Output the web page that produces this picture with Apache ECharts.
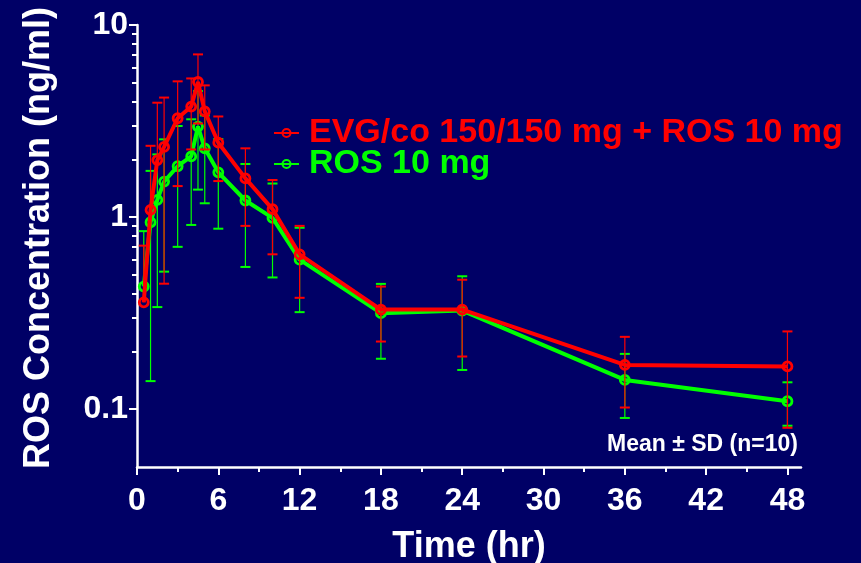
<!DOCTYPE html>
<html>
<head>
<meta charset="utf-8">
<title>ROS Concentration</title>
<script src="https://cdn.jsdelivr.net/npm/echarts@6/dist/echarts.min.js"></script>
<style>
  html, body { margin: 0; padding: 0; background: #000066; }
  #chart { width: 861px; height: 563px; }
</style>
</head>
<body>
<div id="chart"></div>
<script>
// Sampling times (hr)
const times = [0.5, 1, 1.5, 2, 3, 4, 4.5, 5, 6, 8, 10, 12, 18, 24, 36, 48];

// EVG/co 150/150 mg + ROS 10 mg: mean and SD (ng/ml)
const evgMean = [0.36, 1.09, 1.98, 2.32, 3.27, 3.76, 5.05, 3.55, 2.44, 1.59, 1.10, 0.64, 0.33, 0.33, 0.170, 0.167];
const evgSD   = [0.35, 1.26, 1.96, 1.87, 1.82, 1.51, 1.98, 1.30, 0.90, 0.69, 0.46, 0.26, 0.105, 0.142, 0.068, 0.087];

// ROS 10 mg alone: mean and SD (ng/ml)
const rosMean = [0.435, 0.94, 1.23, 1.53, 1.84, 2.07, 2.96, 2.28, 1.71, 1.22, 0.99, 0.60, 0.316, 0.326, 0.142, 0.110];
const rosSD   = [0.41, 0.80, 0.89, 1.01, 1.14, 1.16, 1.57, 1.10, 0.84, 0.67, 0.505, 0.28, 0.133, 0.166, 0.052, 0.028];

// Axis ticks
const xLabelTicks = [0, 6, 12, 18, 24, 30, 36, 42, 48];
const xMinorTicks = [3, 9, 15, 21, 27, 33, 39, 45];
const yLabelTicks = [0.1, 1, 10];
const yMinorTicks = [0.2, 0.3, 0.4, 0.5, 0.6, 0.7, 0.8, 0.9, 2, 3, 4, 5, 6, 7, 8, 9];

const seriesNames = ['EVG/co 150/150 mg + ROS 10 mg', 'ROS 10 mg'];

const X_MIN = 0, X_MAX = 49;
const Y_MIN = 0.05, Y_MAX = 10;

const BG = '#000066';
const RED = '#ff0000';
const GREEN = '#00ff00';
const FONT = '"Liberation Sans", Arial, sans-serif';

function pairs(xs, ys) {
  return xs.map((x, i) => [x, ys[i]]);
}

function barRows(xs, means, sds) {
  return xs.map((x, i) => [x, means[i], means[i] + sds[i], means[i] - sds[i]]);
}

// Vertical mean ± SD bars with short caps; a lower half that falls below the axis is left out
function errorBarRenderer(color) {
  return function (params, api) {
    const t = api.value(0);
    const m = api.value(1);
    const hi = api.value(2);
    const lo = api.value(3);
    const pM = api.coord([t, m]);
    const pH = api.coord([t, hi]);
    const half = 5;
    const stemStyle = { stroke: color, lineWidth: 1.2 };
    const capStyle = { stroke: color, lineWidth: 2 };
    const children = [
      { type: 'line', shape: { x1: pM[0], y1: pM[1], x2: pH[0], y2: pH[1] }, style: stemStyle },
      { type: 'line', shape: { x1: pH[0] - half, y1: pH[1], x2: pH[0] + half, y2: pH[1] }, style: capStyle }
    ];
    if (lo > Y_MIN) {
      const pL = api.coord([t, lo]);
      children.push(
        { type: 'line', shape: { x1: pM[0], y1: pM[1], x2: pL[0], y2: pL[1] }, style: stemStyle },
        { type: 'line', shape: { x1: pL[0] - half, y1: pL[1], x2: pL[0] + half, y2: pL[1] }, style: capStyle }
      );
    }
    return { type: 'group', children: children };
  };
}

function lineSeries(name, data, color, z) {
  return {
    name: name,
    type: 'line',
    data: data,
    z: z,
    color: color,
    symbol: 'circle',
    symbolSize: 9,
    showSymbol: true,
    lineStyle: { color: color, width: 4 },
    itemStyle: { color: 'rgba(0,0,0,0)', borderColor: color, borderWidth: 2.8 },
    emphasis: { disabled: true }
  };
}

function barSeries(name, rows, color, z) {
  return {
    name: name,
    type: 'custom',
    data: rows,
    z: z,
    encode: { x: 0, y: 1 },
    renderItem: errorBarRenderer(color),
    silent: true
  };
}

const axisColor = '#ffffff';

const chart = echarts.init(document.getElementById('chart'), null, { renderer: 'canvas' });

chart.setOption({
  backgroundColor: BG,
  animation: false,
  textStyle: { fontFamily: FONT },
  grid: { left: 137, right: 60, top: 25, bottom: 96, containLabel: false, outerBoundsMode: 'none' },
  legend: {
    orient: 'vertical',
    left: 268,
    top: 111,
    itemWidth: 25,
    itemHeight: 10,
    itemGap: -3,
    selectedMode: false,
    textStyle: { fontFamily: FONT, fontSize: 34, fontWeight: 'bold', padding: [0, 0, 0, 5] },
    data: [
      { name: seriesNames[0], textStyle: { color: RED } },
      { name: seriesNames[1], textStyle: { color: GREEN } }
    ]
  },
  xAxis: [
    {
      type: 'value',
      min: X_MIN,
      max: X_MAX,
      name: 'Time (hr)',
      nameLocation: 'middle',
      nameGap: 62,
      nameTextStyle: { color: '#ffffff', fontSize: 36, fontWeight: 'bold', fontFamily: FONT },
      axisLine: { show: true, onZero: false, lineStyle: { color: axisColor, width: 2.5 } },
      axisTick: { show: true, length: 8, lineStyle: { color: axisColor, width: 2 }, customValues: xLabelTicks },
      axisLabel: { color: '#ffffff', fontSize: 32, fontWeight: 'bold', fontFamily: FONT, margin: 18, customValues: xLabelTicks },
      splitLine: { show: false }
    },
    {
      type: 'value',
      min: X_MIN,
      max: X_MAX,
      position: 'bottom',
      axisLine: { show: false },
      axisTick: { show: true, length: 5, lineStyle: { color: axisColor, width: 2 }, customValues: xMinorTicks },
      axisLabel: { show: false },
      splitLine: { show: false }
    }
  ],
  yAxis: [
    {
      type: 'log',
      logBase: 10,
      min: Y_MIN,
      max: Y_MAX,
      name: 'ROS Concentration (ng/ml)',
      nameLocation: 'middle',
      nameRotate: 90,
      nameGap: 80,
      nameTextStyle: { color: '#ffffff', fontSize: 36, fontWeight: 'bold', fontFamily: FONT, padding: [0, 0, 0, 16] },
      axisLine: { show: true, lineStyle: { color: axisColor, width: 2.5 } },
      axisTick: { show: true, length: 8, lineStyle: { color: axisColor, width: 2 }, customValues: yLabelTicks },
      axisLabel: {
        color: '#ffffff', fontSize: 32, fontWeight: 'bold', fontFamily: FONT, margin: 9,
        padding: [15, 0, 0, 0],
        customValues: yLabelTicks,
        formatter: function (v) { return String(Number(v.toPrecision(3))); }
      },
      splitLine: { show: false }
    },
    {
      type: 'log',
      logBase: 10,
      min: Y_MIN,
      max: Y_MAX,
      position: 'left',
      axisLine: { show: false },
      axisTick: { show: true, length: 5, lineStyle: { color: axisColor, width: 2 }, customValues: yMinorTicks },
      axisLabel: { show: false },
      splitLine: { show: false }
    }
  ],
  graphic: [
    {
      type: 'text',
      x: 798,
      y: 445,
      style: {
        text: 'Mean \u00b1 SD (n=10)',
        fill: '#ffffff',
        font: 'bold 23px ' + FONT,
        textAlign: 'right',
        textVerticalAlign: 'middle'
      }
    }
  ],
  series: [
    barSeries(seriesNames[1] + ' SD', barRows(times, rosMean, rosSD), GREEN, 1),
    lineSeries(seriesNames[1], pairs(times, rosMean), GREEN, 2),
    barSeries(seriesNames[0] + ' SD', barRows(times, evgMean, evgSD), RED, 3),
    lineSeries(seriesNames[0], pairs(times, evgMean), RED, 4)
  ]
});
</script>
</body>
</html>
